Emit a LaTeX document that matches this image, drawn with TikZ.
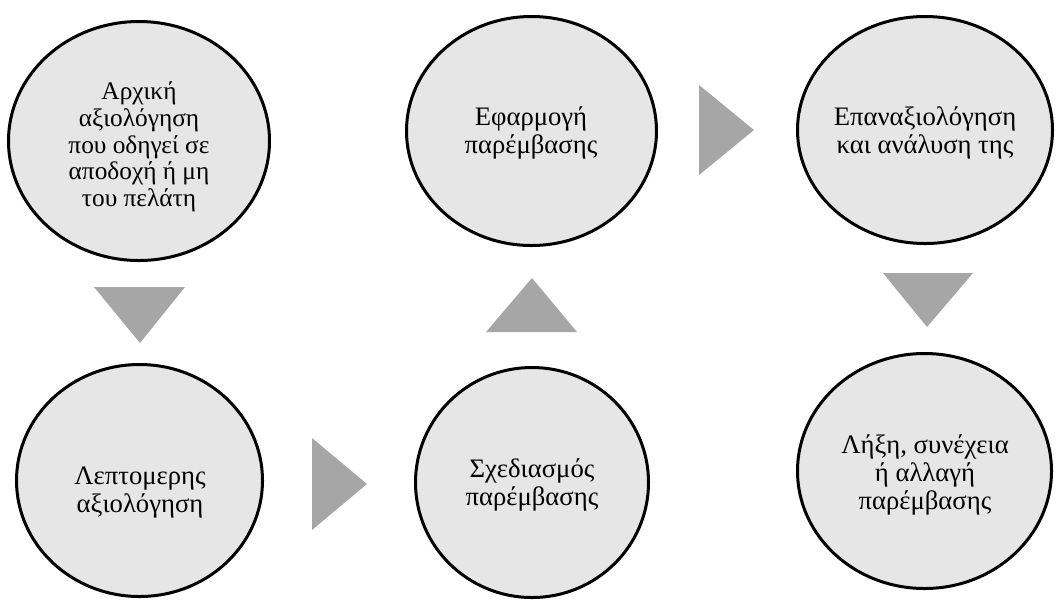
\documentclass[tikz,border=0pt]{standalone}
\usepackage{fontspec}
\setmainfont{Liberation Serif}
\usetikzlibrary{shapes.geometric}
\definecolor{cfill}{HTML}{E6E6E6}
\definecolor{afill}{HTML}{A6A6A6}
\tikzset{
  bubble/.style={ellipse, draw=black, line width=2.25pt, fill=cfill, inner sep=0pt},
  label text/.style={align=center, inner sep=0pt, font=\fontsize{20}{21}\selectfont},
  small label text/.style={align=center, inner sep=0pt, font=\fontsize{19}{20}\selectfont},
  arrowshape/.style={fill=afill, draw=none}
}
\begin{document}
\begin{tikzpicture}[x=0.75pt, y=-0.75pt]
\useasboundingbox (0,0) rectangle (1056,601);
% circles
\node[bubble, minimum width=261*0.75pt, minimum height=239*0.75pt] (c1) at (139,141) {};
\node[bubble, minimum width=246*0.75pt, minimum height=232*0.75pt] (c2) at (139.5,480.5) {};
\node[bubble, minimum width=233*0.75pt, minimum height=230*0.75pt] (c4) at (532,482.5) {};
\node[bubble, minimum width=250*0.75pt, minimum height=229*0.75pt] (c3) at (531.5,131) {};
\node[bubble, minimum width=255*0.75pt, minimum height=227*0.75pt] (c5) at (925,130) {};
\node[bubble, minimum width=254*0.75pt, minimum height=235*0.75pt] (c6) at (924.5,471) {};
% texts
\node[small label text] (t1) at (139,147) {Αρχική\\αξιολόγηση\\που οδηγεί σε\\αποδοχή ή μη\\του πελάτη};
\node[label text] (t2) at (140,493) {Λεπτομερης\\αξιολόγηση};
\node[label text] (t3) at (531,133) {Εφαρμογή\\παρέμβασης};
\node[label text] (t4) at (532,485) {Σχεδιασμός\\παρέμβασης};
\node[label text] (t5) at (925,133) {Επαναξιολόγηση\\και ανάλυση της};
\node[label text] (t6) at (925,475) {Λήξη, συνέχεια\\ή αλλαγή\\παρέμβασης};
% arrows
\fill[arrowshape] (94,287) -- (185,287) -- (140,343) -- cycle;
\fill[arrowshape] (312,438) -- (312,530) -- (367,484) -- cycle;
\fill[arrowshape] (486,332) -- (577,332) -- (532,278) -- cycle;
\fill[arrowshape] (699,85) -- (699,175) -- (754,130) -- cycle;
\fill[arrowshape] (883,273) -- (973,273) -- (927,327) -- cycle;
\end{tikzpicture}
\end{document}
